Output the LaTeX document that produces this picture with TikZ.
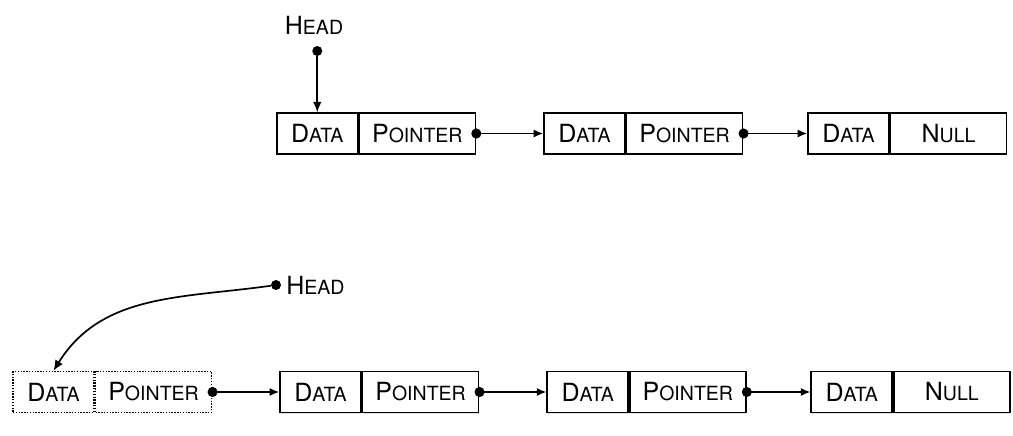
\documentclass[tikz,border=0pt]{standalone}
\usepackage{fontspec}
\setmainfont{TeX Gyre Heros}
\usetikzlibrary{arrows.meta,shadows}

% fake small caps: big first letter, smaller rest
\newcommand{\smallcap}[2]{#1{\fontsize{13.9}{16}\selectfont #2}}

\tikzset{
	cell/.style={rectangle, draw, line width=1.1pt, fill=white, minimum height=1.025cm, inner sep=0pt,
		font=\fontsize{17.8}{20}\selectfont, drop shadow={shadow xshift=0.3pt, shadow yshift=-0.9pt, opacity=0.25}},
	datacell/.style={cell, minimum width=2.025cm},
	ptrcell/.style={cell, minimum width=2.9cm, anchor=west},
	newcell/.style={rectangle, draw, line width=1.1pt, dash pattern=on 1pt off 1pt, fill=white,
		minimum height=1.025cm, inner sep=0pt, font=\fontsize{17.8}{20}\selectfont},
	link/.style={line width=1.1pt, shorten <=-1.2mm, {Circle[length=2.5mm]}-{Latex[length=2.4mm, width=2mm]}},
	headdot/.style={circle, fill=black, inner sep=0pt, minimum size=2.5mm},
	headlink/.style={line width=1.2pt, -{Latex[length=2.6mm, width=2.2mm]}},
	label/.style={font=\fontsize{17.8}{20}\selectfont, inner sep=0pt}
}

\begin{document}
\begin{tikzpicture}[x=0.025cm, y=-0.025cm]
	\useasboundingbox (0,0) rectangle (1013,435);

	% list before the insertion
	\node[datacell] (dA) at (317.25, 133.5) {\smallcap{D}{ATA}};
	\node[ptrcell] (pA) at (dA.east) {\smallcap{P}{OINTER}};
	\node[datacell] (dB) at (584.5, 133.5) {\smallcap{D}{ATA}};
	\node[ptrcell] (pB) at (dB.east) {\smallcap{P}{OINTER}};
	\node[datacell] (dC) at (848.5, 133.5) {\smallcap{D}{ATA}};
	\node[ptrcell] (pC) at (dC.east) {\smallcap{N}{ULL}};

	\node[headdot] (hdotA) at (317.25, 51) {};
	\node[label] (headA) at (314, 25) {\smallcap{H}{EAD}};

	\draw[headlink] (hdotA) -- (dA.north);
	\draw[link] (pA.east) -- (dB.west);
	\draw[link] (pB.east) -- (dC.west);

	% list after the insertion at the front
	\node[newcell, minimum width=2.025cm] (d0) at (53.5, 392) {\smallcap{D}{ATA}};
	\node[newcell, minimum width=2.9cm, anchor=west] (p0) at (d0.east) {\smallcap{P}{OINTER}};
	\node[datacell] (d1) at (320.5, 392) {\smallcap{D}{ATA}};
	\node[ptrcell] (p1) at (d1.east) {\smallcap{P}{OINTER}};
	\node[datacell] (d2) at (587.75, 392) {\smallcap{D}{ATA}};
	\node[ptrcell] (p2) at (d2.east) {\smallcap{P}{OINTER}};
	\node[datacell] (d3) at (851.75, 392) {\smallcap{D}{ATA}};
	\node[ptrcell] (p3) at (d3.east) {\smallcap{N}{ULL}};

	\node[headdot] (hdot0) at (276, 285) {};
	\node[label, anchor=west] (head0) at (286, 285) {\smallcap{H}{EAD}};

	\draw[headlink] (hdot0) to[out=188, in=58] (d0.north);
	\draw[link] (p0.east) -- (d1.west);
	\draw[link] (p1.east) -- (d2.west);
	\draw[link] (p2.east) -- (d3.west);
\end{tikzpicture}
\end{document}
